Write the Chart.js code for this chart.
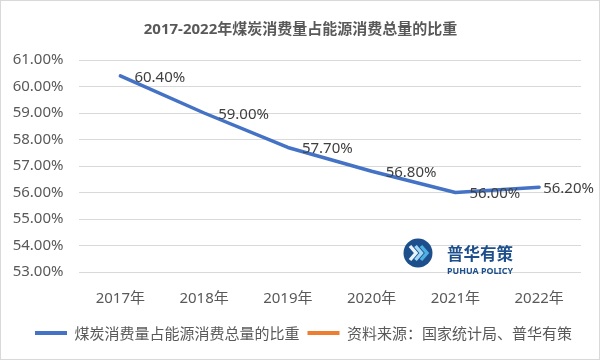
<!DOCTYPE html>
<html><head><meta charset="utf-8">
<script src="https://cdn.jsdelivr.net/npm/chart.js@4/dist/chart.umd.min.js"></script>
<style>html,body{margin:0;padding:0;background:#fff}#wrap{width:601px;height:361px}</style>
</head><body><div id="wrap"><canvas id="c" width="601" height="361"></canvas></div>
<script>
const categories = ["2017年","2018年","2019年","2020年","2021年","2022年"];
const coalShare = [60.4, 59.0, 57.7, 56.8, 56.0, 56.2];
const yTicks = [53, 54, 55, 56, 57, 58, 59, 60, 61];
const seriesName = "煤炭消费量占能源消费总量的比重";
const sourceName = "资料来源：国家统计局、普华有策";
const titleText = "2017-2022年煤炭消费量占能源消费总量的比重";

const FAM = '"Noto Sans", "Noto Sans CJK SC", sans-serif';
const CJK = '"Noto Sans CJK SC", "Noto Sans", sans-serif';

const bgPlugin = {
  id: 'bg',
  beforeDraw(chart) {
    const ctx = chart.ctx;
    ctx.save(); ctx.fillStyle = '#ffffff'; ctx.fillRect(0, 0, chart.width, chart.height); ctx.restore();
  },
  afterDraw(chart) {
    const ctx = chart.ctx;
    ctx.save();
    ctx.fillStyle = '#595959';
    ctx.font = 'bold 15px ' + FAM;
    ctx.textAlign = 'center'; ctx.textBaseline = 'middle';
    ctx.fillText(titleText, 300.5, 30);
    ctx.strokeStyle = '#d9d9d9'; ctx.lineWidth = 1;
    ctx.strokeRect(0.5, 0.5, 599, 359);
    ctx.restore();
  }
};

const labelPlugin = {
  id: 'dlabels',
  afterDatasetsDraw(chart) {
    const ctx = chart.ctx;
    const meta = chart.getDatasetMeta(0);
    ctx.save();
    ctx.font = '15px ' + FAM;
    ctx.fillStyle = '#404040';
    ctx.textAlign = 'left'; ctx.textBaseline = 'middle';
    meta.data.forEach((pt, i) => {
      const txt = coalShare[i].toFixed(2) + '%';
      const w = ctx.measureText(txt).width;
      let x = pt.x + 14;
      if (x + w > 594) x = 594 - w;
      ctx.fillText(txt, x, pt.y + 1.5);
    });
    ctx.restore();
  }
};

const logoPlugin = {
  id: 'logo',
  afterDraw(chart) {
    const ctx = chart.ctx;
    ctx.save();
    const cx = 418, cy = 253, r = 14.5;
    ctx.fillStyle = '#1d4f8c';
    ctx.beginPath(); ctx.arc(cx, cy, r, 0, Math.PI * 2); ctx.fill();
    const cols = ['#e8f5fc', '#9fd6f2', '#4eb1e3'];
    ctx.lineWidth = 3.4; ctx.lineJoin = 'miter'; ctx.lineCap = 'butt';
    [-8, -2.5, 3].forEach((dx, k) => {
      ctx.strokeStyle = cols[k];
      ctx.beginPath();
      ctx.moveTo(cx + dx, cy - 7);
      ctx.lineTo(cx + dx + 6, cy);
      ctx.lineTo(cx + dx, cy + 7);
      ctx.stroke();
    });
    ctx.fillStyle = '#1d4f8c';
    ctx.font = 'bold 16.5px ' + CJK;
    ctx.textAlign = 'left'; ctx.textBaseline = 'alphabetic';
    ctx.fillText('普华有策', 447, 260);
    ctx.font = 'bold 9px ' + FAM;
    const t2 = 'PUHUA POLICY';
    const w2 = ctx.measureText(t2).width;
    ctx.translate(447, 274);
    ctx.scale(66 / w2, 1);
    ctx.fillText(t2, 0, 0);
    ctx.restore();
  }
};

new Chart(document.getElementById('c'), {
  type: 'line',
  data: {
    labels: categories,
    datasets: [
      {
        label: seriesName,
        data: coalShare,
        borderColor: '#4472C4',
        backgroundColor: '#4472C4',
        borderWidth: 3.5,
        pointRadius: 0,
        tension: 0,
        borderJoinStyle: 'round',
        borderCapStyle: 'round',
        fill: false
      },
      {
        label: sourceName,
        data: [],
        borderColor: '#ED7D31',
        backgroundColor: '#ED7D31',
        borderWidth: 3.5,
        pointRadius: 0
      }
    ]
  },
  options: {
    responsive: false,
    animation: false,
    devicePixelRatio: 1,
    layout: { padding: { top: 60, left: 6, right: 0, bottom: 10.5 } },
    plugins: {
      title: { display: false },
      tooltip: { enabled: false },
      legend: {
        display: true,
        position: 'bottom',
        labels: {
          boxWidth: 32,
          boxHeight: 4,
          padding: 8,
          color: '#595959',
          font: { size: 15, family: CJK },
          generateLabels(chart) {
            const items = Chart.defaults.plugins.legend.labels.generateLabels(chart);
            return items.map(it => Object.assign(it, { fillStyle: it.strokeStyle, lineWidth: 0 }));
          }
        }
      }
    },
    scales: {
      x: {
        type: 'category',
        offset: true,
        grid: { display: false, drawTicks: false },
        border: { display: false },
        ticks: { color: '#595959', font: { size: 15, family: FAM }, padding: 17.5, maxRotation: 0 },
        afterFit(s) { s.height = 45.5; }
      },
      y: {
        position: 'left',
        min: 53, max: 61,
        afterBuildTicks(s) { s.ticks = yTicks.map(v => ({ value: v })); },
        grid: { color: '#d9d9d9', lineWidth: 1, drawTicks: false },
        border: { display: false },
        ticks: {
          color: '#595959', font: { size: 15, family: FAM }, padding: 15,
          callback: v => Number(v).toFixed(2) + '%'
        },
        afterFit(s) { s.width = 72.5; }
      },
      y2: {
        position: 'right',
        display: true,
        grid: { display: false, drawTicks: false },
        border: { display: false },
        ticks: { display: false },
        afterFit(s) { s.width = 20; }
      }
    }
  },
  plugins: [bgPlugin, labelPlugin, logoPlugin]
});
</script>
</body></html>
